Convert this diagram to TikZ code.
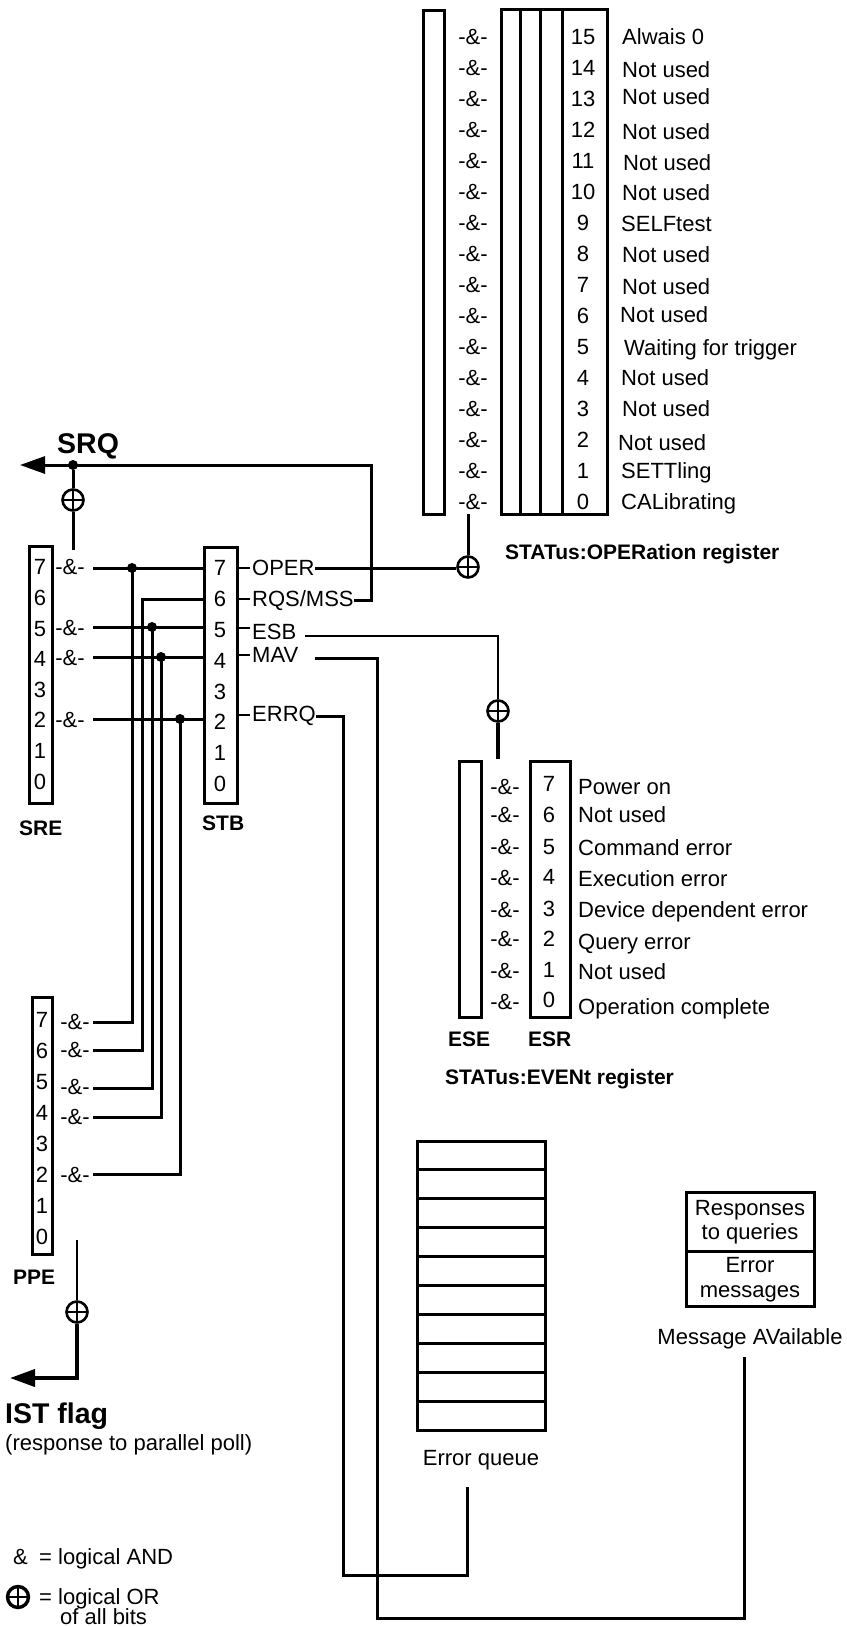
\documentclass[tikz,border=0pt]{standalone}
\usepackage{fontspec}
\setmainfont{Liberation Sans}
\usetikzlibrary{arrows.meta}
\begin{document}
\begin{tikzpicture}[x=1pt,y=-1pt]
\tikzset{
  ln/.style={line width=3pt},
  lnthin/.style={line width=2.3pt},
  lnthick/.style={line width=3.8pt},
  bx/.style={draw,line width=3pt},
  tx/.style={font=\fontsize{22}{26}\selectfont,inner sep=0pt,anchor=base west,yshift=-7.8pt},
  txc/.style={tx,anchor=base},
  bl/.style={font=\fontsize{21}{25}\selectfont\bfseries,inner sep=0pt,anchor=base west,yshift=-7.5pt},
  big/.style={font=\fontsize{28.5}{33}\selectfont\bfseries,inner sep=0pt,anchor=base west,yshift=-10.2pt},
  jdot/.style={circle,fill,inner sep=0pt,minimum size=10pt},
  orsym/.style={circle,draw,line width=2.6pt,minimum size=21pt,inner sep=0pt,
     path picture={\draw[line width=2.6pt] (path picture bounding box.north)--(path picture bounding box.south) (path picture bounding box.west)--(path picture bounding box.east);}},
  arrtip/.style={-{Triangle[length=25pt,width=17pt]}},
}
\useasboundingbox (0,0) rectangle (846,1627);

% ---------- STATus:OPERation register ----------
\draw[bx] (423,11) rectangle (444,514);
\draw[bx] (501,10) rectangle (607,514);
\foreach \xx in {520,540,562} \draw[ln] (\xx,10)--(\xx,514);
\foreach \b in {0,...,15} {
  \node[txc] at (473,{37+31*(15-\b)}) {-\&-};
  \node[txc] at (583,{37+31*(15-\b)}) {\b};
}
\foreach \yy/\xx/\lab in {37/622/Alwais 0, 70/622/Not used, 97/622/Not used, 132/622/Not used, 163/623/Not used, 193/622/Not used, 224/621/SELFtest, 255/622/Not used, 287/622/Not used, 315/620/Not used, 348/624/Waiting for trigger, 378/621/Not used, 409/622/Not used, 443/618/Not used, 471/621/SETTling, 502/621/CALibrating}
  \node[tx] at (\xx,\yy) {\lab};
\node[bl] (opreg) at (505,552) {STATus:OPERation register};
\node[orsym] (or1) at (468,567) {};
\coordinate (opbot) at (468,514);
\draw[ln] (opbot) -- (or1.north);

% ---------- STB labels ----------
\node[tx] (oper) at (252,568) {OPER};
\node[tx] (rqs) at (252,599) {RQS/MSS};
\node[tx] (esb) at (252,632) {ESB};
\node[tx] (mav) at (252,655) {MAV};
\node[tx] (errq) at (252,714) {ERRQ};
\foreach \yy in {568,599,628,655,715} \draw[lnthin] (239,\yy)--(250,\yy);

\draw[ln] (oper.east) -- (oper.east -| or1.west);

% SRQ
\coordinate (srqR) at (371,465);
\coordinate (srqtip) at (20,465);
\draw[ln,arrtip] (rqs.east) -| (srqR) -- (srqtip);
\node[big] (srq) at (57,443) {SRQ};
\node[jdot] (j0) at (73,465) {};
\node[orsym] (or2) at (73,500) {};
\coordinate (sretop) at (73,550);
\draw[ln] (j0) -- (or2.north) (or2.south) -- (sretop);

% ESB -> event register
\coordinate (esbA) at (305,636);
\coordinate (esbB) at (498,636);
\node[orsym] (or3) at (498,711) {};
\coordinate (esetop) at (498,759);
\draw[lnthin] (esbA) -- (esbB) -- (or3.north);
\draw[lnthick] (or3.south) -- (esetop);

% MAV
\coordinate (mavA) at (315,658);
\coordinate (mavB) at (377,1618);
\coordinate (mavC) at (744,1357);
\draw[ln] (mavA) -| (mavB) -| (mavC);

% ERRQ
\coordinate (eqA) at (343,1575);
\coordinate (eqtop) at (467,1487);
\draw[ln] (errq.east) -| (eqA) -| (eqtop);

% ---------- SRE ----------
\draw[bx] (29,546) rectangle (52,803);
\foreach \b in {0,...,7} \node[txc] at (40,{567+30.6*(7-\b)}) {\b};
\foreach \yy in {567,628,658,720} \node[txc] at (70,\yy) {-\&-};
\node[bl] (sre) at (19,828) {SRE};

% ---------- STB ----------
\draw[bx] (204,547) rectangle (237,803);
\foreach \b in {0,...,7} \node[txc] at (220,{568+30.8*(7-\b)}) {\b};
\node[bl] (stb) at (202,823) {STB};

\draw[ln] (93,568) -- (204,568);
\draw[ln] (93,627) -- (204,627);
\draw[ln] (93,657) -- (204,657);
\draw[ln] (93,719) -- (204,719);
\draw[ln] (204,599) -| (142,1050) -- (93,1050);
\draw[ln] (132,568) |- (93,1022);
\draw[ln] (152,627) |- (93,1088);
\draw[ln] (161,657) |- (93,1117);
\draw[ln] (180,719) |- (93,1174);
\foreach \p in {(132,568),(152,627),(161,657),(180,719)} \node[jdot] at \p {};

% ---------- PPE ----------
\draw[bx] (32,997) rectangle (52,1254);
\foreach \b in {0,...,7} \node[txc] at (42,{1020+31*(7-\b)}) {\b};
\foreach \yy in {1022,1050,1087,1117,1175} \node[txc] at (75,\yy) {-\&-};
\node[bl] (ppe) at (13,1277) {PPE};

% IST
\node[orsym] (or4) at (77,1312) {};
\coordinate (ppebot) at (77,1240);
\coordinate (isttip) at (10,1378);
\draw[lnthin] (ppebot) -- (or4.north);
\draw[lnthick,arrtip] (or4.south) |- (isttip);
\node[big] (ist) at (5,1413) {IST flag};
\node[tx] at (5,1443) {(response to parallel poll)};

% ---------- ESE / ESR ----------
\draw[bx] (459,761) rectangle (481,1017);
\draw[bx] (530,761) rectangle (570,1017);
\foreach \b/\ya/\yn/\yl/\lab in {7/787/784/787/Power on, 6/815/815/815/Not used, 5/847/847/848/Command error, 4/878/877/879/Execution error, 3/910/909/910/Device dependent error, 2/939/939/942/Query error, 1/971/970/972/Not used, 0/1002/1000/1007/Operation complete}{
  \node[txc] at (505,\ya) {-\&-};
  \node[txc] at (549,\yn) {\b};
  \node[tx] at (578,\yl) {\lab};
}
\node[bl] (ese) at (448,1039) {ESE};
\node[bl] (esr) at (528,1039) {ESR};
\node[bl] (evreg) at (445,1077) {STATus:EVENt register};

% ---------- Error queue ----------
\draw[bx] (417,1141) rectangle (545,1430);
\foreach \k in {1,...,9} \draw[ln] (417,{1141+28.9*\k}) -- (545,{1141+28.9*\k});
\node[txc] (eq) at (481,1458) {Error queue};

% ---------- Output queue ----------
\draw[bx] (686,1192) rectangle (814,1306);
\draw[ln] (686,1251) -- (814,1251);
\node[txc] at (750,1208) {Responses};
\node[txc] at (750,1232) {to queries};
\node[txc] at (750,1265) {Error};
\node[txc] at (750,1290) {messages};
\node[txc] (mavtxt) at (750,1337) {Message AVailable};

% ---------- Legend ----------
\node[tx] at (13,1557) {\&};
\node[tx] at (39,1557) {= logical AND};
\node[orsym,line width=3.4pt] (orleg) at (18,1597) {};
\node[tx] at (39,1597) {= logical OR};
\node[tx] at (60,1617) {of all bits};
\end{tikzpicture}
\end{document}
